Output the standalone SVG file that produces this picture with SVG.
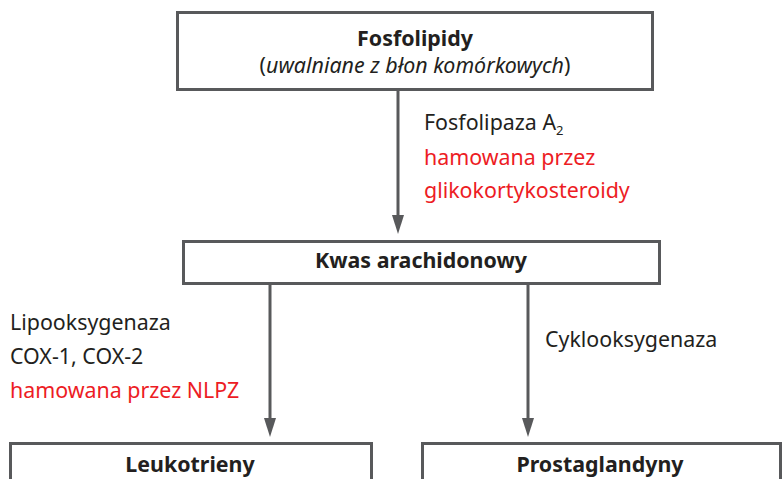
<svg xmlns="http://www.w3.org/2000/svg" width="782" height="479" viewBox="0 0 782 479">
<defs>
<style>
.box{fill:#fff;stroke:#58595b;stroke-width:3}
.t{font-family:"Noto Sans","Open Sans","Liberation Sans",sans-serif;font-size:21.4px;fill:#231f20}
.b{font-weight:bold;text-anchor:middle}
.r{fill:#ed1c24}
.line{stroke:#58595b;stroke-width:3;fill:none}
.head{fill:#58595b}
</style>
</defs>
<rect width="782" height="479" fill="#fff"/>
<g id="fosfolipidy">
<rect class="box" x="177.5" y="12.5" width="475" height="77"/>
<text class="t b" x="415" y="46">Fosfolipidy</text>
<text class="t" x="415" y="73" text-anchor="middle">(<tspan font-style="italic">uwalniane z błon komórkowych</tspan>)</text>
</g>
<g id="kwas">
<rect class="box" x="183.5" y="241.5" width="476" height="42"/>
<text class="t b" x="421" y="268">Kwas arachidonowy</text>
</g>
<g id="leukotrieny">
<rect class="box" x="10.5" y="443.5" width="361" height="50"/>
<text class="t b" x="190" y="472">Leukotrieny</text>
</g>
<g id="prostaglandyny">
<rect class="box" x="422.5" y="443.5" width="358" height="50"/>
<text class="t b" x="600" y="472">Prostaglandyny</text>
</g>
<g id="connectors">
<line class="line" x1="398" y1="90" x2="398" y2="218"/>
<polygon class="head" points="392,215 404,215 398,234"/>
<line class="line" x1="270" y1="284" x2="270" y2="421"/>
<polygon class="head" points="264,418 276,418 270,437"/>
<line class="line" x1="528" y1="284" x2="528" y2="421"/>
<polygon class="head" points="522,418 534,418 528,437"/>
</g>
<g id="labels">
<text class="t" x="424" y="130">Fosfolipaza A<tspan font-size="13" dy="5">2</tspan></text>
<text class="t r" x="424" y="165">hamowana przez</text>
<text class="t r" x="424" y="198">glikokortykosteroidy</text>
<text class="t" x="10" y="330">Lipooksygenaza</text>
<text class="t" x="10" y="364">COX-1, COX-2</text>
<text class="t r" x="10" y="398">hamowana przez NLPZ</text>
<text class="t" x="545" y="347">Cyklooksygenaza</text>
</g>
</svg>
